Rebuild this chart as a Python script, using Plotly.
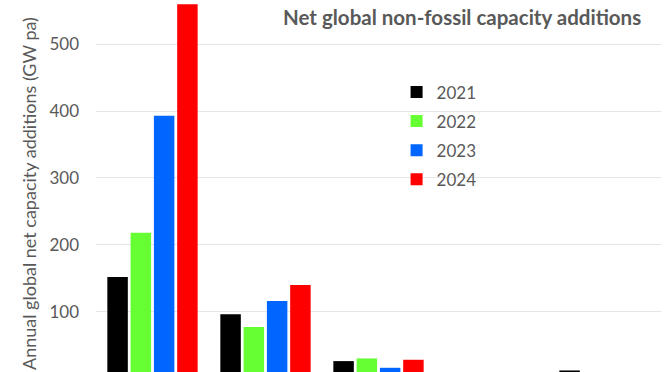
import plotly.graph_objects as go

categories = ["Solar", "Wind", "Hydro", "Bioenergy", "Nuclear"]
years = ["2021", "2022", "2023", "2024"]
v2021 = [152, 96, 26, 8, 12]
v2022 = [218, 77, 30, 7, 5]
v2023 = [393, 116, 16, 5, 6]
v2024 = [560, 140, 28, 6, 7]
colors = ["#000000", "#66ff33", "#0066ff", "#ff0000"]
yticks = [0, 100, 200, 300, 400, 500]

series = [v2021, v2022, v2023, v2024]
FONT = "Lato"
GREY = "#595959"

fig = go.Figure()
for name, vals, col in zip(years, series, colors):
    fig.add_trace(go.Bar(x=categories, y=vals, name=name, marker_color=col,
                         marker_line_width=0, legendgroup=name))

fig.update_layout(
    width=672, height=372,
    margin=dict(l=96, r=11, t=0, b=0),
    paper_bgcolor="white", plot_bgcolor="white",
    barmode="group", bargap=0.176, bargroupgap=0.12,
    font=dict(family=FONT, color=GREY),
    showlegend=True,
    legend=dict(x=0.532, y=0.8, xanchor="left", yanchor="top",
                font=dict(family=FONT, size=17, color=GREY),
                bgcolor="rgba(0,0,0,0)", tracegroupgap=4,
                traceorder="grouped"),
    xaxis=dict(showticklabels=False, showline=False, ticks=""),
    yaxis=dict(range=[9.7, 566.2], tickvals=yticks, showgrid=True,
               gridcolor="#e6e6e6", gridwidth=1, zeroline=False,
               tickfont=dict(family=FONT, size=17, color=GREY),
               ticklabelstandoff=16, showline=False),
    annotations=[
        dict(text="<b>Net global non-fossil capacity additions</b>",
             xref="paper", yref="paper", x=(462 - 96) / 565, y=(372 - 17) / 372,
             xanchor="center", yanchor="middle", showarrow=False,
             font=dict(family=FONT, size=20.5, color=GREY)),
        dict(text="Annual global net capacity additions (GW pa)",
             xref="paper", yref="paper", x=(29 - 96) / 565, y=(372 - 194) / 372,
             xanchor="center", yanchor="middle", textangle=-90, showarrow=False,
             font=dict(family=FONT, size=18, color=GREY)),
    ],
)

fig.write_html("out.html", config={"displayModeBar": False},
               post_script="document.body.style.margin='0';document.body.style.padding='0';")
